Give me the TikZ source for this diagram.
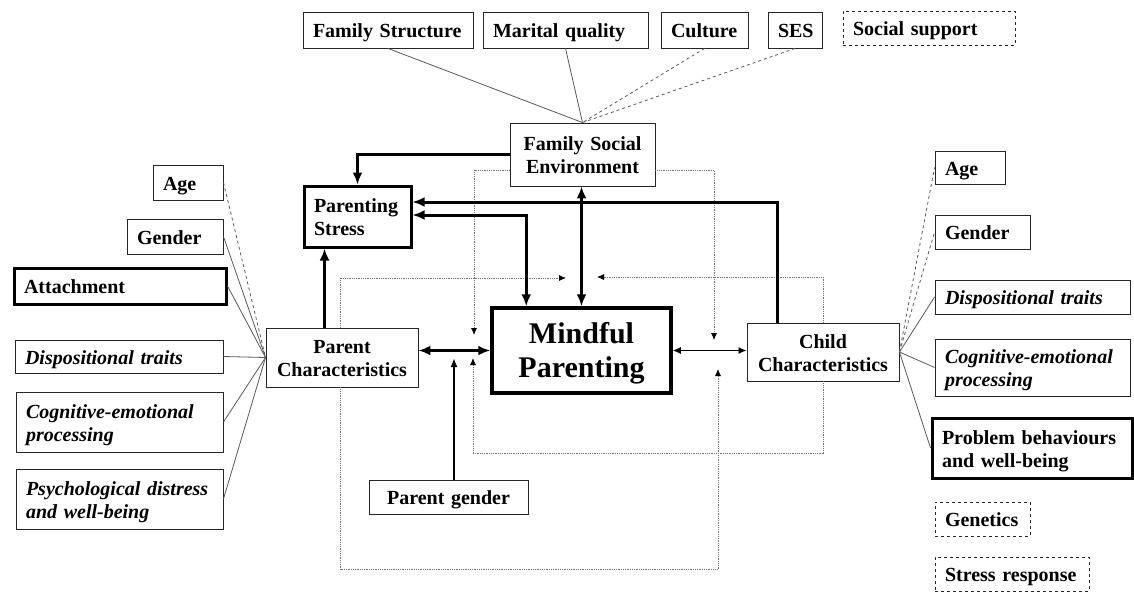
\documentclass[tikz,border=0pt]{standalone}
\usepackage{fontspec}
\setmainfont{Liberation Serif}
\usetikzlibrary{arrows.meta}

\begin{document}
\begin{tikzpicture}[x=1pt, y=-1pt,
    every node/.style={font=\fontsize{20}{23}\selectfont\bfseries, inner ysep=0pt,
                       text height=19pt, text depth=4pt},
    two/.style={text depth=27pt},
    bx/.style={draw=black!85, line width=0.9pt, inner xsep=10pt, align=left},
    cbx/.style={draw=black!85, line width=0.9pt, inner xsep=4pt, align=center},
    heavy/.style={draw=black, line width=3pt},
    dbx/.style={bx, dashed},
    it/.style={font=\fontsize{20}{23}\selectfont\bfseries\itshape},
    link/.style={black!65, line width=0.8pt},
    dlink/.style={link, dashed},
    arr/.style={-{Latex[length=12pt,width=10pt]}, line width=3pt},
    darr/.style={{Latex[length=12pt,width=10pt]}-{Latex[length=12pt,width=10pt]}, line width=3pt},
    tarr/.style={{Latex[length=8pt,width=7pt]}-{Latex[length=8pt,width=7pt]}, line width=1.2pt},
    garr/.style={-{Latex[length=9pt,width=7pt]}, line width=2pt},
    dot/.style={densely dotted, black!55, line width=0.8pt, -{Latex[length=7pt,width=6pt,color=black]}}
  ]
  \useasboundingbox (0,0) rectangle (1134,592);

  % family social environment
  \node[bx, text width=150pt, minimum height=36pt] (famstruct) at (388,30) {Family Structure};
  \node[bx, text width=145pt, minimum height=36pt] (marital) at (565.5,30) {Marital quality};
  \node[bx, text width=67pt, minimum height=36pt] (culture) at (704.5,30) {Culture};
  \node[bx, text width=34pt, minimum height=36pt] (ses) at (795,30) {SES};
  \node[dbx, text width=152pt, minimum height=34pt] (socsup) at (929,28) {Social support};
  \node[cbx, two, text width=137pt, minimum height=63pt] (fse) at (582.5,154.5) {Family Social\\Environment};

  % centre
  \node[bx, heavy, two, text width=87pt, minimum height=61pt] (ps) at (357.5,216.5) {Parenting\\Stress};
  \node[cbx, two, text width=144pt, minimum height=59pt] (pc) at (342,357.5) {Parent\\Characteristics};
  \node[cbx, heavy, line width=3.5pt, text width=171pt, minimum height=85pt,
        font=\fontsize{30}{34}\selectfont\bfseries, text height=25pt, text depth=40pt] (mp) at (581.5,350.5) {Mindful\\Parenting};
  \node[cbx, two, text width=144pt, minimum height=58pt] (cc) at (823,352) {Child\\Characteristics};
  \node[cbx, text width=151pt, minimum height=34pt] (pg) at (448.5,497) {Parent gender};

  % parent side
  \node[bx, text width=50pt, minimum height=35pt] (lage) at (188,182.5) {Age};
  \node[bx, text width=76pt, minimum height=35pt] (lgender) at (175,236.5) {Gender};
  \node[bx, heavy, text width=192pt, minimum height=36pt] (lattach) at (120,286) {Attachment};
  \node[bx, it, text width=188pt, minimum height=33pt] (ldisp) at (119,356.5) {Dispositional traits};
  \node[bx, it, two, text width=187pt, minimum height=60pt] (lcog) at (119.5,422) {Cognitive-emotional\\processing};
  \node[bx, it, two, text width=187pt, minimum height=60pt] (lpsy) at (119.5,499) {Psychological distress\\and well-being};

  % child side
  \node[bx, text width=50pt, minimum height=33pt] (rage) at (970,167.5) {Age};
  \node[bx, text width=75pt, minimum height=34pt] (rgender) at (982.5,232) {Gender};
  \node[bx, it, text width=175pt, minimum height=34pt] (rdisp) at (1032.5,297) {Dispositional traits};
  \node[bx, it, two, text width=175pt, minimum height=57pt] (rcog) at (1032.5,367.5) {Cognitive-emotional\\processing};
  \node[bx, heavy, two, text width=180pt, minimum height=60pt] (rprob) at (1032,448) {Problem behaviours\\and well-being};
  \node[dbx, text width=75pt, minimum height=34pt] (genetics) at (982.5,519) {Genetics};
  \node[dbx, text width=134pt, minimum height=34pt] (stressresp) at (1012,574) {Stress response};

  % links to the three groups
  \foreach \n in {famstruct, marital} \draw[link] (\n.south) -- (fse.north);
  \foreach \n in {culture, ses} \draw[dlink] (\n.south) -- (fse.north);
  \draw[dlink] (lage.east) -- (pc.west);
  \foreach \n in {lgender, lattach, ldisp, lcog, lpsy} \draw[link] (\n.east) -- (pc.west);
  \foreach \n in {rage, rgender} \draw[dlink] (cc.east) -- (\n.west);
  \foreach \n in {rdisp, rcog, rprob} \draw[link] (cc.east) -- (\n.west);

  % moderation tips
  \coordinate (fsetipL) at (474,335);
  \coordinate (fsetipR) at (714,340);
  \coordinate (pctipT) at (566,278);
  \coordinate (pctipB) at (718,369);
  \coordinate (cctipT) at (597,277);
  \coordinate (cctipB) at (473,358);
  \coordinate (pgtip) at (454,358);

  \draw[dot] ([yshift=-15.5pt]fse.west) -| (fsetipL);
  \draw[dot] ([yshift=-15.5pt]fse.east) -| (fsetipR);
  \draw[dot] ([xshift=75pt]pc.north west) |- (pctipT);
  \draw[dot] ([xshift=75pt]pc.south west) -- ++(0,182) -| (pctipB);
  \draw[dot] (cc.north) |- (cctipT);
  \draw[dot] (cc.south) -- ++(0,72) -| (cctipB);

  % main paths
  \draw[arr] (fse.west) -| (ps.north);
  \draw[darr] ([yshift=1.5pt]ps.east) -| ([xshift=36pt]mp.north west);
  \draw[arr] ([xshift=31pt]cc.north west) |- ([yshift=14.5pt]ps.east);
  \draw[darr] (fse.south -| mp.north) -- (mp.north);
  \draw[arr] ([xshift=59pt]pc.north west) -- ([xshift=59pt]pc.north west |- ps.south);
  \draw[darr] (pc.east |- mp.west) -- (mp.west);
  \draw[tarr] (mp.east) -- (mp.east -| cc.west);
  \draw[garr] (pgtip |- pg.north) -- (pgtip);
\end{tikzpicture}
\end{document}
